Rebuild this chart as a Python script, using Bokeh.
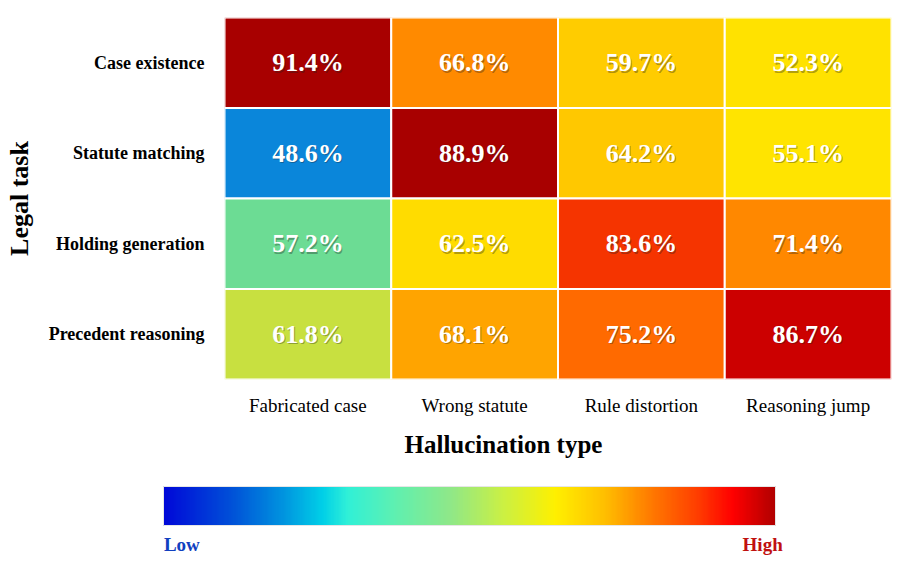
import numpy as np
from bokeh.plotting import figure
from bokeh.models import ColumnDataSource, FactorRange, Title, ColorBar, LinearColorMapper, FixedTicker
from bokeh.core.properties import value
from bokeh.embed import file_html
from bokeh.resources import INLINE

# ---------------- data ----------------
tasks = ["Case existence", "Statute matching", "Holding generation", "Precedent reasoning"]
types = ["Fabricated case", "Wrong statute", "Rule distortion", "Reasoning jump"]
rates = [
    [91.4, 66.8, 59.7, 52.3],
    [48.6, 88.9, 64.2, 55.1],
    [57.2, 62.5, 83.6, 71.4],
    [61.8, 68.1, 75.2, 86.7],
]
# cell fill colours (style)
cell_colors = [
    ["#a80000", "#ff8a00", "#ffcc00", "#ffe200"],
    ["#0a86da", "#a80000", "#ffc800", "#ffe400"],
    ["#6cdc94", "#ffdc00", "#f53400", "#ff8800"],
    ["#c8e040", "#ffa400", "#ff6a00", "#cc0000"],
]
scale_labels = ["Low", "High"]

FONT = "Liberation Serif"

xs, ys, vals, cols, txt = [], [], [], [], []
for i, t in enumerate(tasks):
    for j, h in enumerate(types):
        xs.append(h)
        ys.append(t)
        vals.append(rates[i][j])
        cols.append(cell_colors[i][j])
        txt.append(f"{rates[i][j]:.1f}%")
src = ColumnDataSource(dict(x=xs, y=ys, v=vals, c=cols, t=txt))

p = figure(width=902, height=563, x_range=FactorRange(*types),
           y_range=FactorRange(*reversed(tasks)),
           output_backend="svg", toolbar_location=None,
           min_border_left=224, min_border_right=11, min_border_top=17, min_border_bottom=184)
p.rect(x="x", y="y", width=1, height=1, source=src, fill_color="c",
       line_color="white", line_width=2)
# subtle text shadow
p.text(x="x", y="y", text="t", source=src, text_color="#202020", text_alpha=0.35,
       text_font=value(FONT), text_font_style="bold", text_font_size="26px",
       text_align="center", text_baseline="middle", x_offset=1.2, y_offset=1.5)
p.text(x="x", y="y", text="t", source=src, text_color="white",
       text_font=value(FONT), text_font_style="bold", text_font_size="26px",
       text_align="center", text_baseline="middle")

p.outline_line_color = None
p.grid.grid_line_color = None
for ax in (p.xaxis[0], p.yaxis[0]):
    ax.axis_line_color = None
    ax.major_tick_line_color = None
    ax.minor_tick_line_color = None
    ax.major_label_text_font = FONT
    ax.major_label_text_color = "black"
p.xaxis.major_label_text_font_size = "19px"
p.yaxis.major_label_text_font_size = "18px"
p.xaxis.major_label_standoff = 9
p.yaxis.major_label_standoff = 14
p.yaxis.major_label_text_font_style = "bold"
p.xaxis.major_label_text_font_style = "normal"

p.yaxis.axis_label = "Legal task"
p.yaxis.axis_label_text_font = FONT
p.yaxis.axis_label_text_font_style = "bold"
p.yaxis.axis_label_text_font_size = "26px"
p.yaxis.axis_label_text_color = "black"
p.yaxis.axis_label_standoff = 12

xt = Title(text="Hallucination type", align="left", offset=180,
           text_font=FONT, text_font_style="bold", text_font_size="25px",
           text_color="black", standoff=20)
p.add_layout(xt, "below")

# ---------------- colour scale ----------------
stops = [0.0, 0.11, 0.20, 0.26, 0.30, 0.38, 0.47, 0.55, 0.64, 0.72, 0.79, 0.87, 0.93, 1.0]
stop_cols = ["#0008d8", "#0050d8", "#0098e0", "#00d0e8", "#30f0d8", "#60f0b0", "#90e888",
             "#c8f048", "#fff000", "#ffc000", "#ff8000", "#ff4000", "#ff0000", "#b00000"]

def hex2rgb(h):
    return [int(h[k:k + 2], 16) for k in (1, 3, 5)]

rgb = np.array([hex2rgb(c) for c in stop_cols], dtype=float)
n = 256
f = (np.arange(n) + 0.5) / n
pal = []
for fi in f:
    r = np.interp(fi, stops, rgb[:, 0])
    g = np.interp(fi, stops, rgb[:, 1])
    b = np.interp(fi, stops, rgb[:, 2])
    pal.append("#%02x%02x%02x" % (int(r), int(g), int(b)))

mapper = LinearColorMapper(palette=pal, low=0, high=1)
end_ticks = [0.03, 0.979]
label_colors = ["#1040c0", "#c01010"]
for k in range(2):
    cb = ColorBar(color_mapper=mapper, orientation="horizontal", width=612, height=39,
                  location=(-61, -178), padding=0, title=None,
                  ticker=FixedTicker(ticks=[end_ticks[k]]),
                  major_label_overrides={end_ticks[k]: scale_labels[k]},
                  major_label_text_font=FONT, major_label_text_font_style="bold",
                  major_label_text_font_size="19px", major_label_text_color=label_colors[k],
                  major_tick_line_color=None, minor_tick_line_color=None,
                  bar_line_color="#e6e6e6", background_fill_alpha=0, border_line_color=None,
                  label_standoff=8)
    p.add_layout(cb, "center")

open("out.html", "w").write(file_html(p, INLINE))
